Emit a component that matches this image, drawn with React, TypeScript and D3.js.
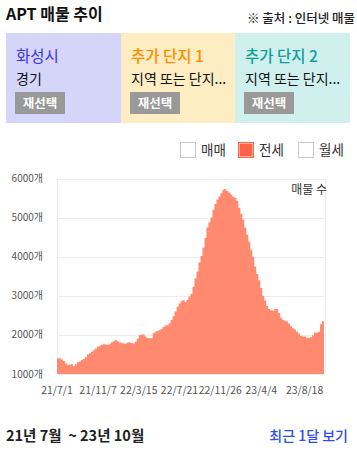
import React, { useEffect, useRef } from "react";
import * as d3 from "d3";

const values: number[] = [
  1400, 1400, 1370, 1330, 1270, 1230, 1240, 1250, 1200, 1250,
  1300, 1320, 1357, 1390, 1430, 1500, 1530, 1570, 1610, 1650,
  1700, 1720, 1750, 1760, 1755, 1750, 1760, 1810, 1840, 1870,
  1840, 1810, 1790, 1780, 1780, 1800, 1810, 1790, 1780, 1825,
  1900, 1990, 2010, 2010, 1960, 1920, 1915, 1915, 2040, 2080,
  2100, 2120, 2150, 2200, 2240, 2250, 2300, 2380, 2480, 2600,
  2720, 2800, 2860, 2890, 2850, 2900, 2980, 3050, 3230, 3450,
  3620, 3850, 4020, 4230, 4480, 4750, 4880, 5000, 5200, 5350,
  5460, 5540, 5620, 5710, 5730, 5680, 5640, 5590, 5540, 5500,
  5430, 5250, 5100, 4950, 4750, 4560, 4380, 4180, 3990, 3750,
  3560, 3400, 3200, 3000, 2880, 2740, 2660, 2630, 2620, 2660,
  2660, 2560, 2440, 2390, 2360, 2340, 2290, 2220, 2170, 2140,
  2080, 2030, 1970, 1960, 1960, 1930, 1930, 1940, 1990, 2060,
  2060, 2080, 2270, 2350,
];

const tickLabels: string[] = ["21/7/1", "21/11/7", "22/3/15", "22/7/21", "22/11/26", "23/4/4", "23/8/18"];
const yTicks: number[] = [1000, 2000, 3000, 4000, 5000, 6000];
const legendItems: string[] = ["매매", "전세", "월세"];
const legendChecked: boolean[] = [false, true, false];
const cardTitles: string[] = ["화성시", "추가 단지 1", "추가 단지 2"];
const cardSubs: string[] = ["경기", "지역 또는 단지...", "지역 또는 단지..."];

const START = new Date(2021, 6, 1);
const END = new Date(2023, 9, 18);

const FONT = "'Noto Sans CJK KR', 'Noto Sans', sans-serif";

function parseLabel(s: string): Date {
  const [yy, mm, dd] = s.split("/").map(Number);
  return new Date(2000 + yy, mm - 1, dd);
}

export default function App() {
  const ref = useRef<SVGSVGElement>(null);

  useEffect(() => {
    const svg = d3.select(ref.current);
    svg.selectAll("*").remove();

    const W = 357, H = 451;
    svg.append("rect").attr("width", W).attr("height", H).attr("fill", "#fff");

    // Header
    svg.append("text").attr("x", 6).attr("y", 20).attr("font-size", 16).attr("font-weight", 700)
      .attr("fill", "#111").attr("font-family", FONT).text("APT 매물 추이");
    svg.append("text").attr("x", 355).attr("y", 22.5).attr("text-anchor", "end").attr("font-size", 12.5)
      .attr("font-weight", 500).attr("fill", "#222").attr("font-family", FONT).text("※ 출처 : 인터넷 매물");

    // Cards
    const cardX = [6, 121, 235];
    const cardW = [115, 114, 115];
    const cardBg = ["#d5d5fa", "#feedc2", "#d0f0ee"];
    const titleColor = ["#3434e6", "#ff8c00", "#12a09a"];
    cardX.forEach((cx, i) => {
      const g = svg.append("g").attr("transform", `translate(${cx},33)`);
      g.append("rect").attr("width", cardW[i]).attr("height", 90).attr("fill", cardBg[i]);
      g.append("text").attr("x", 10).attr("y", 29).attr("font-size", 15.5).attr("fill", titleColor[i])
        .attr("font-weight", i === 0 ? 400 : 500).attr("font-family", FONT).text(cardTitles[i]);
      g.append("text").attr("x", 10).attr("y", 51).attr("font-size", 14).attr("fill", "#111")
        .attr("font-family", FONT).text(cardSubs[i]);
      g.append("rect").attr("x", 9).attr("y", 59).attr("width", 50).attr("height", 22).attr("fill", "#999");
      g.append("text").attr("x", 34).attr("y", 75).attr("text-anchor", "middle").attr("font-size", 12.5)
        .attr("font-weight", 700).attr("fill", "#fff").attr("font-family", FONT).text("재선택");
    });

    // Legend
    const legX = [180, 238, 298];
    legendItems.forEach((t, i) => {
      const g = svg.append("g").attr("transform", `translate(${legX[i]},142)`);
      if (legendChecked[i]) {
        g.append("rect").attr("x", 0.5).attr("y", 0.5).attr("width", 15).attr("height", 15)
          .attr("fill", "#ff6347").attr("stroke", "#ff6347");
        g.append("rect").attr("x", 1.5).attr("y", 1.5).attr("width", 13).attr("height", 13)
          .attr("fill", "none").attr("stroke", "#ffb5a5").attr("stroke-width", 1);
      } else {
        g.append("rect").attr("x", 0.5).attr("y", 0.5).attr("width", 15).attr("height", 15)
          .attr("fill", "#fff").attr("stroke", "#c8c8d0");
      }
      g.append("text").attr("x", 21).attr("y", 13).attr("font-size", 13.5).attr("fill", "#333")
        .attr("font-family", FONT).text(t);
    });

    // Chart
    const x = d3.scaleTime().domain([START, END]).range([57, 324]);
    const y = d3.scaleLinear().domain([1000, 6000]).range([374, 178.5]);

    const grid = svg.append("g");
    grid.selectAll("line.h").data(yTicks).join("line")
      .attr("x1", 57).attr("x2", 325).attr("y1", (d) => Math.round(y(d)) + 0.5).attr("y2", (d) => Math.round(y(d)) + 0.5)
      .attr("stroke", "#ececec");
    [57, 325].forEach((vx) => {
      grid.append("line").attr("x1", vx + 0.5).attr("x2", vx + 0.5).attr("y1", y(6000)).attr("y2", y(1000))
        .attr("stroke", "#ececec");
    });

    const span = END.getTime() - START.getTime();
    const data = values.map((v, i) => ({ date: new Date(START.getTime() + (i * span) / values.length), v }));
    data.push({ date: END, v: values[values.length - 1] });

    const area = d3.area<{ date: Date; v: number }>()
      .x((d) => x(d.date)).y0(y(1000)).y1((d) => y(d.v)).curve(d3.curveStepAfter);
    svg.append("path").datum(data).attr("d", area).attr("fill", "#ff8a70");

    // Y labels
    svg.append("g").selectAll("text").data(yTicks).join("text")
      .attr("x", 43).attr("y", (d) => y(d)).attr("dy", "0.35em").attr("text-anchor", "end")
      .attr("font-size", 10).attr("fill", "#555").attr("font-family", FONT).text((d) => `${d}개`);

    // X labels
    svg.append("g").selectAll("text").data(tickLabels).join("text")
      .attr("x", (d) => x(parseLabel(d))).attr("y", 394).attr("text-anchor", "middle")
      .attr("font-size", 10.5).attr("fill", "#555").attr("font-family", FONT).text((d) => d);

    svg.append("text").attr("x", 327).attr("y", 194).attr("text-anchor", "end").attr("font-size", 12)
      .attr("fill", "#333").attr("font-family", FONT).text("매물 수");

    // Footer
    svg.append("text").attr("x", 6).attr("y", 441).attr("font-size", 14.5).attr("font-weight", 600)
      .attr("fill", "#222").attr("font-family", FONT).attr("xml:space", "preserve")
      .style("white-space", "pre").text("21년 7월  ~ 23년 10월");
    svg.append("text").attr("x", 348).attr("y", 441).attr("text-anchor", "end").attr("font-size", 14)
      .attr("font-weight", 500).attr("fill", "#2f4ee8").attr("font-family", FONT).text("최근 1달 보기");
  }, []);

  return (
    <div style={{ position: "absolute", left: 0, top: 0, width: 357, height: 451 }}>
      <svg ref={ref} width={357} height={451} style={{ display: "block" }} />
    </div>
  );
}
